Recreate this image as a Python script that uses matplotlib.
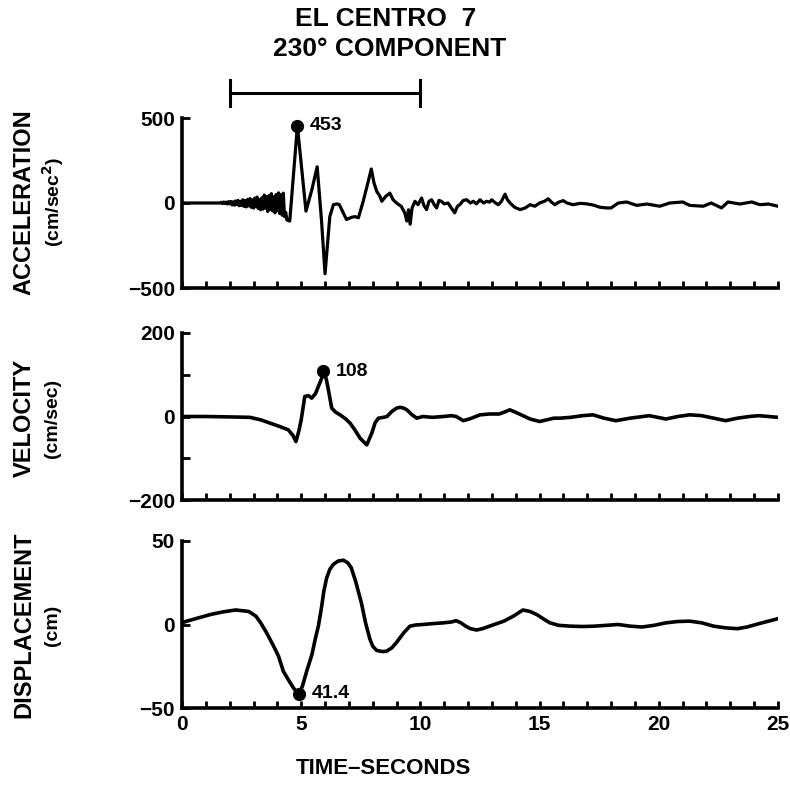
import matplotlib
matplotlib.use("Agg")
import matplotlib.pyplot as plt
import matplotlib.transforms as mtransforms

plt.rcParams['font.family'] = ['Liberation Sans', 'DejaVu Sans']
plt.rcParams['font.weight'] = 'bold'

# ---- Ground acceleration, cm/sec^2 ----
acc_t = [0.0, 1.0, 1.5, 1.60, 1.65, 1.70, 1.75, 1.80, 1.85, 1.90, 1.95, 2.00, 2.05, 2.10, 2.15,
         2.20, 2.25, 2.30, 2.35, 2.40, 2.45, 2.50, 2.55, 2.60, 2.65, 2.70, 2.75, 2.80, 2.85,
         2.90, 2.95, 3.00, 3.05, 3.10, 3.15, 3.20, 3.25, 3.30, 3.35, 3.40, 3.45, 3.50, 3.55,
         3.60, 3.65, 3.70, 3.75, 3.80, 3.85, 3.90, 3.95, 4.00, 4.05, 4.10, 4.15, 4.20, 4.25,
         4.30, 4.35, 4.40, 4.52, 4.84, 5.20, 5.45, 5.67, 5.85, 6.00, 6.20, 6.35, 6.50, 6.60,
         6.90, 7.10, 7.25, 7.40, 7.60, 7.80, 7.94, 8.05, 8.17, 8.30, 8.38, 8.55, 8.72, 8.85,
         9.00, 9.20, 9.35, 9.43, 9.50, 9.57, 9.65, 9.77, 9.90, 10.05, 10.15, 10.26, 10.36,
         10.47, 10.58, 10.68, 10.78, 10.88, 11.00, 11.16, 11.30, 11.44, 11.55, 11.65, 11.80,
         11.94, 12.10, 12.22, 12.35, 12.50, 12.65, 12.78, 12.90, 12.99, 13.15, 13.27, 13.40,
         13.55, 13.65, 13.76, 13.95, 14.18, 14.40, 14.60, 14.80, 15.00, 15.20, 15.36, 15.50,
         15.64, 15.80, 15.99, 16.15, 16.40, 16.70, 16.97, 17.25, 17.53, 17.80, 18.00, 18.30,
         18.65, 19.07, 19.50, 20.04, 20.46, 21.00, 21.30, 21.86, 22.20, 22.63, 22.90, 23.40,
         23.90, 24.24, 24.60, 25.00]
acc_v = [0, 0, 0, 0, 4, -3, 6, -2, 5, -6, 8, -5, 9, -11, 7,
         -13, 12, -9, 15, -16, 10, -14, 19, -20, 14, -23, 21, -17, 26,
         -25, 18, -30, 29, -22, 35, -33, 20, -40, 31, -36, 47, -30, 38,
         -50, 44, -38, 55, -47, 36, -58, 50, -44, 60, -62, 48, -72, 58,
         -80, -55, -100, -106, 453, -48, 80, 213, -100, -416, -80, -10, -5, -10,
         -97, -85, -80, -87, 10, 120, 200, 120, 68, 40, 10, 40, 58, 20,
         0, -20, -60, -106, -40, -125, -30, 10, -10, 29, -15, -39, 10,
         19, -10, -29, 15, 10, -5, 0, -30, -58, -20, -10, 15,
         19, 0, 10, -5, 19, 0, 10, 5, 19, 0, -10, 10,
         52, 20, 0, -25, -39, -29, -10, -19, 0, 10, 25, 5,
         -10, 5, 14, 0, -10, -2, -5, -12, -25, -29, -29, 0,
         6, -14, -6, -19, 0, 6, -14, -19, 0, -29, 6, -6,
         6, -10, -6, -19]
acc_peak_t, acc_peak_v = 4.84, 453

# ---- Ground velocity, cm/sec ----
vel_t = [0.0, 1.0, 2.0, 2.85, 3.3, 3.7, 4.1, 4.46, 4.65, 4.78, 4.9, 5.0, 5.15, 5.3, 5.44,
         5.6, 5.72, 5.85, 5.93, 6.05, 6.14, 6.28, 6.45, 6.63, 6.85, 7.05, 7.25, 7.47, 7.75,
         7.96, 8.1, 8.24, 8.45, 8.6, 8.8, 9.0, 9.15, 9.3, 9.43, 9.65, 9.85, 10.1, 10.5,
         10.97, 11.3, 11.5, 11.8, 12.1, 12.5, 12.9, 13.3, 13.5, 13.75, 14.0, 14.3, 14.6,
         15.0, 15.3, 15.6, 15.85, 16.3, 16.8, 17.24, 17.7, 18.2, 18.8, 19.6, 20.3, 20.8,
         21.3, 21.8, 22.3, 22.8, 23.3, 23.8, 24.2, 25.0]
vel_v = [0, 0, -1, -2, -8, -16, -24, -32, -45, -60, -35, -8, 48, 50, 44,
         55, 72, 90, 108, 90, 64, 20, 10, 4, -5, -16, -32, -52, -68,
         -40, -15, -4, -2, 0, 12, 20, 22, 20, 16, 4, -4, 0, -2,
         0, 2, 0, -10, -5, 4, 6, 6, 10, 16, 10, 2, -6,
         -12, -8, -4, -4, -2, 2, 4, -4, -10, -4, 2, -6, 0,
         4, 2, -4, -10, -4, 0, 2, -2]
vel_peak_t, vel_peak_v = 5.93, 108

# ---- Ground displacement, cm ----
dis_t = [0.0, 0.2, 0.7, 1.2, 1.7, 2.25, 2.8, 3.1, 3.3, 3.55, 3.83, 4.05, 4.25, 4.5, 4.7,
         4.9, 5.05, 5.23, 5.45, 5.6, 5.72, 5.85, 5.95, 6.07, 6.2, 6.35, 6.55, 6.77, 6.95,
         7.1, 7.3, 7.53, 7.7, 7.88, 8.0, 8.16, 8.4, 8.58, 8.8, 9.0, 9.3, 9.56, 9.8, 10.1,
         10.5, 10.97, 11.3, 11.5, 11.7, 11.9, 12.1, 12.36, 12.6, 12.9, 13.2, 13.5, 13.9,
         14.3, 14.6, 14.9, 15.2, 15.43, 15.8, 16.3, 16.8, 17.3, 17.8, 18.3, 18.8, 19.3,
         19.8, 20.3, 20.8, 21.3, 21.8, 22.3, 22.8, 23.3, 23.7, 24.2, 24.6, 25.0]
dis_v = [1, 2, 4, 6, 7.5, 8.7, 7.8, 5, 1, -5, -12.6, -19, -28, -34, -38.5,
         -41.4, -37, -28, -18, -8, -1, 10, 20, 28, 33, 36, 38, 38.5, 37,
         34, 25, 12.6, 1, -8.7, -13, -15.5, -16.2, -16, -14, -10.7, -5, -1, -0.3, 0,
         0.5, 1, 1.5, 2.3, 1, -1, -2.5, -3.3, -2.5, -1, 0.5, 2, 5,
         8.7, 7.8, 5.8, 3, 1, -0.5, -1, -1.2, -1, -0.5, 0, -1, -1.5,
         -0.5, 1, 1.8, 2, 1, -1, -2, -2.5, -1.5, 0.5, 2, 3.5]
dis_peak_t, dis_peak_v = 4.9, -41.4

x_ticks = [0, 5, 10, 15, 20, 25]
strong_motion = (2, 10)

W, H = 790, 786
fig = plt.figure(figsize=(W / 100, H / 100), dpi=100)


def frame(top, bottom):
    return [182 / W, 1 - bottom / H, 596 / W, (bottom - top) / H]


ax1 = fig.add_axes(frame(118, 288))
ax2 = fig.add_axes(frame(333, 500))
ax3 = fig.add_axes(frame(541, 708))

ax1.plot(acc_t, acc_v, color='black', lw=2.3, solid_joinstyle='round')
ax2.plot(vel_t, vel_v, color='black', lw=2.6, solid_joinstyle='round')
ax3.plot(dis_t, dis_v, color='black', lw=2.6, solid_joinstyle='round')

ax1.plot([acc_peak_t], [acc_peak_v], 'o', color='black', ms=8.5)
ax2.plot([vel_peak_t], [vel_peak_v], 'o', color='black', ms=8.5)
ax3.plot([dis_peak_t], [dis_peak_v], 'o', color='black', ms=8.5)

note = dict(xytext=(9, 0), textcoords='offset points', va='center', ha='left',
            fontsize=14, fontweight='bold')
ax1.annotate(f"{acc_peak_v}", (acc_peak_t, acc_peak_v), **note)
ax2.annotate(f"{vel_peak_v}", (vel_peak_t, vel_peak_v), **note)
ax3.annotate(f"{abs(dis_peak_v)}", (dis_peak_t, dis_peak_v), **note)

limits = [(-500, 500), (-200, 200), (-50, 50)]
yticks = [[-500, 0, 500], [-200, -100, 0, 100, 200], [-50, 0, 50]]
ylabels = [['\u2212500', '0', '500'], ['\u2212200', '', '0', '', '200'], ['\u221250', '0', '50']]

for ax, lim, yt, yl in zip([ax1, ax2, ax3], limits, yticks, ylabels):
    ax.set_xlim(0, 25)
    ax.set_ylim(*lim)
    for s in ['top', 'right']:
        ax.spines[s].set_visible(False)
    for s in ['left', 'bottom']:
        ax.spines[s].set_linewidth(2.6)
    ax.set_yticks(yt)
    ax.set_yticklabels(yl)
    ax.set_xticks(x_ticks)
    ax.set_xticks(range(0, 26), minor=True)
    ax.tick_params(axis='x', which='both', direction='in', length=5, width=2, labelsize=15, pad=5)
    ax.tick_params(axis='y', direction='in', length=6, width=2, labelsize=15, pad=5)
    ax.set_facecolor('none')
    for lab in ax.get_xticklabels() + ax.get_yticklabels():
        lab.set_fontweight('bold')

ax1.tick_params(axis='x', labelbottom=False)
ax2.tick_params(axis='x', labelbottom=False)

# Strong-motion bracket above the acceleration panel
trans = mtransforms.blended_transform_factory(ax1.transData, ax1.transAxes)
y0 = (118 - 93) / 170 + 1
ax1.plot(list(strong_motion), [y0, y0], color='black', lw=2.2, transform=trans, clip_on=False)
for xb in strong_motion:
    ax1.plot([xb, xb], [y0 - 0.078, y0 + 0.078], color='black', lw=2.2, transform=trans, clip_on=False)

fig.text(386 / W, 1 - 19 / H, "EL CENTRO  7", ha='center', va='center', fontsize=19, fontweight='bold')
fig.text(390 / W, 1 - 49 / H, "230\u00b0 COMPONENT", ha='center', va='center', fontsize=19, fontweight='bold')

fig.text(383 / W, 1 - 768 / H, "TIME\u2013SECONDS", ha='center', va='center', fontsize=16, fontweight='bold')

side = [("ACCELERATION", "(cm/sec$^\\mathbf{2}$)", 202),
        ("VELOCITY", "(cm/sec)", 418),
        ("DISPLACEMENT", "(cm)", 625)]
for name, unit, yc in side:
    fig.text(24 / W, 1 - yc / H, name, rotation=90, ha='center', va='center', fontsize=17, fontweight='bold')
    fig.text(53 / W, 1 - yc / H, unit, rotation=90, ha='center', va='center', fontsize=14, fontweight='bold')

fig.savefig("out.png", dpi=100)
